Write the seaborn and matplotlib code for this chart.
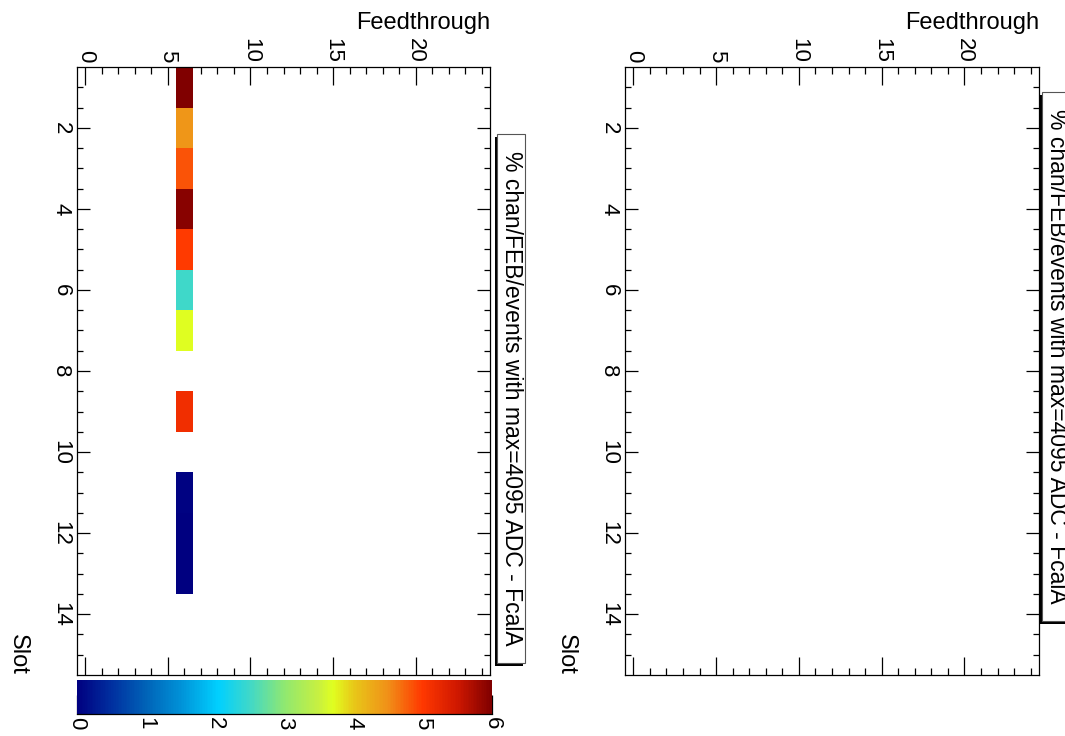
import numpy as np
import pandas as pd
import matplotlib
matplotlib.use("Agg")
import matplotlib.pyplot as plt
import seaborn as sns
from matplotlib.colors import LinearSegmentedColormap
from matplotlib.patches import Rectangle
from matplotlib.ticker import FixedLocator

sns.set_theme(style="white")
plt.rcParams['font.family'] = ['Liberation Sans', 'DejaVu Sans']
plt.rcParams['text.color'] = 'black'
plt.rcParams['axes.labelcolor'] = 'black'
plt.rcParams['xtick.color'] = 'black'
plt.rcParams['ytick.color'] = 'black'

# ---------------- data ----------------
title = "% chan/FEB/events with max=4095 ADC - FcalA"
x_title = "Feedthrough"
y_title = "Slot"
feedthroughs = list(range(0, 25))
slots = list(range(1, 16))
ft_ticks = [0, 5, 10, 15, 20]
slot_ticks = [2, 4, 6, 8, 10, 12, 14]
cbar_ticks = [0, 1, 2, 3, 4, 5, 6]

hit_ft = 6
hit_slots = [1, 2, 3, 4, 5, 6, 7, 9, 11, 12, 13]
hit_values = [6.0, 4.45, 4.85, 5.95, 4.97, 2.5, 3.7, 5.15, 0.03, 0.02, 0.02]

# colour palette (jet-like ROOT palette)
pal_pos = [0.0, 0.083, 0.167, 0.25, 0.34, 0.417, 0.5, 0.583, 0.617, 0.667, 0.75, 0.833, 0.917, 1.0]
pal_col = ["#000080", "#0030a0", "#0064b8", "#0092d8", "#00d0ff", "#40d8c8", "#90e870",
           "#c8f040", "#e0ff20", "#e8c818", "#f09018", "#ff3800", "#d01800", "#800000"]
cmap = LinearSegmentedColormap.from_list("rootjet", list(zip(pal_pos, pal_col)), N=256)

# ---------------- tables ----------------
left_df = pd.DataFrame(np.nan, index=slots, columns=feedthroughs)
for s, v in zip(hit_slots, hit_values):
    left_df.loc[s, hit_ft] = v
right_df = pd.DataFrame(np.nan, index=slots, columns=feedthroughs)

W, H = 1065, 736
fig = plt.figure(figsize=(W / 100, H / 100), dpi=100)
fig.patch.set_facecolor("white")

def fx(x):
    return x / W

def fy(y):
    return 1 - y / H

frame_top, frame_bot = 67, 675
axL = fig.add_axes([fx(77), fy(frame_bot), (490 - 77) / W, (frame_bot - frame_top) / H])
axR = fig.add_axes([fx(625), fy(frame_bot), (1039 - 625) / W, (frame_bot - frame_top) / H])
cax = fig.add_axes([fx(77), fy(714), (492 - 77) / W, (714 - 680) / H])

sns.heatmap(left_df, ax=axL, cmap=cmap, vmin=0, vmax=6, cbar_ax=cax,
            cbar_kws=dict(orientation="horizontal"), xticklabels=False, yticklabels=False)
sns.heatmap(right_df, ax=axR, cmap=cmap, vmin=0, vmax=6, cbar=False,
            xticklabels=False, yticklabels=False)

lw = 0.9
for ax in (axL, axR):
    ax.set_facecolor("white")
    for sp in ax.spines.values():
        sp.set_visible(True)
        sp.set_color("black")
        sp.set_linewidth(lw)
    ax.set_xlabel("")
    ax.set_ylabel("")
    # feedthrough axis (horizontal)
    col_pos = {f: left_df.columns.get_loc(f) + 0.5 for f in feedthroughs}
    ax.xaxis.set_major_locator(FixedLocator([col_pos[f] for f in ft_ticks]))
    ax.xaxis.set_minor_locator(FixedLocator([col_pos[f] for f in feedthroughs]))
    ax.set_xticklabels([str(f) for f in ft_ticks], rotation=270, color="black")
    ax.tick_params(axis="x", which="both", direction="in", top=True, bottom=True,
                   labeltop=True, labelbottom=False, color="black", width=lw,
                   labelsize=16, pad=3, labelcolor="black")
    ax.tick_params(axis="x", which="major", length=13)
    ax.tick_params(axis="x", which="minor", length=5)
    # slot axis (vertical)
    row0 = left_df.index.get_loc(slots[0])
    half_steps = np.arange(slots[0], slots[-1] + 0.01, 0.5)
    ax.yaxis.set_major_locator(FixedLocator([row0 + (s - slots[0]) + 0.5 for s in slot_ticks]))
    ax.yaxis.set_minor_locator(FixedLocator([row0 + (s - slots[0]) + 0.5 for s in half_steps]))
    ax.set_yticklabels([str(s) for s in slot_ticks], rotation=270, va="center", color="black")
    ax.tick_params(axis="y", which="both", direction="in", left=True, right=True,
                   labelleft=True, labelright=False, color="black", width=lw,
                   labelsize=16, pad=4, labelcolor="black")
    ax.tick_params(axis="y", which="major", length=9.5)
    ax.tick_params(axis="y", which="minor", length=4)

# colour bar
cb = axL.collections[0].colorbar
cb.set_ticks(cbar_ticks)
cb.set_ticklabels([str(t) for t in cbar_ticks])
cb.outline.set_visible(False)
cax.spines["bottom"].set_visible(True)
cax.spines["bottom"].set_color("black")
cax.spines["bottom"].set_linewidth(lw)
cax.tick_params(axis="x", which="major", direction="in", length=13.5, width=lw, color="black",
                bottom=True, top=False, labelbottom=True, labelsize=16, labelrotation=270,
                pad=2, labelcolor="black")
cax.tick_params(axis="x", which="minor", bottom=False, top=False)
cax.tick_params(axis="y", left=False, right=False, labelleft=False)

# axis titles
for right_edge, left_edge in ((490, 77), (1039, 625)):
    fig.text(fx(right_edge), fy(29), x_title, ha="right", va="baseline", fontsize=17,
             color="black")
    fig.text(fx(left_edge - 59), fy(675), y_title, ha="center", va="bottom",
             rotation=270, fontsize=17, color="black")

# title boxes with shadow
def title_box(x0, x1, y0, y1):
    fig.add_artist(Rectangle((fx(x0 - 2), fy(y1 + 3)), (x1 - x0) / W, (y1 - y0) / H,
                             transform=fig.transFigure, facecolor="black", edgecolor="none"))
    fig.add_artist(Rectangle((fx(x0), fy(y1)), (x1 - x0) / W, (y1 - y0) / H,
                             transform=fig.transFigure, facecolor="white",
                             edgecolor="#555555", linewidth=0.8))
    fig.text(fx((x0 + x1) / 2), fy((y0 + y1) / 2), title, ha="center", va="center",
             rotation=270, fontsize=16.5, color="black")

title_box(497, 525, 134, 663)
title_box(1042, 1072, 92, 621)

fig.savefig("out.png", dpi=100, facecolor="white")
